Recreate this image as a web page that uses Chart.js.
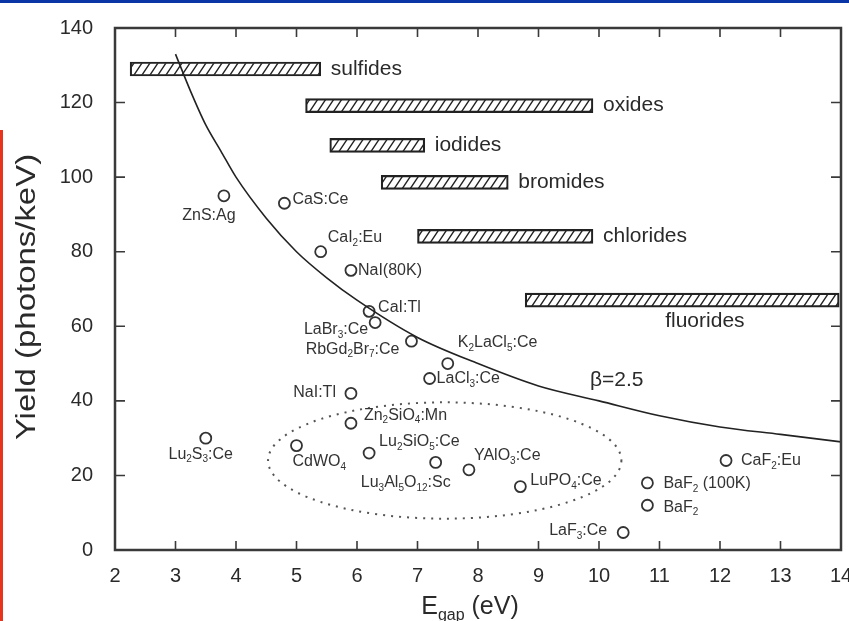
<!DOCTYPE html>
<html>
<head>
<meta charset="utf-8">
<script src="https://cdn.jsdelivr.net/npm/chart.js@4.4.1/dist/chart.umd.min.js"></script>
<style>
  html, body { margin: 0; padding: 0; background: #fff; }
  #wrap { position: relative; width: 849px; height: 621px; overflow: hidden; }
  #wrap canvas { position: absolute; left: 0; top: 0; }
  #topbar { position: absolute; left: 0; top: 0; width: 849px; height: 3px; background: #0a35a6; }
  #redstrip { position: absolute; left: 0; top: 130px; width: 3px; height: 491px; background: #e8341c; }
</style>
</head>
<body>
<div id="wrap">
  <canvas id="yieldChart" width="849" height="621"></canvas>
  <div id="topbar"></div>
  <div id="redstrip"></div>
</div>
<script>
// scintillator materials
const materials = ['ZnS:Ag', 'CaS:Ce', 'CaI_2:Eu', 'NaI(80K)', 'CaI:Tl', 'LaBr_3:Ce', 'RbGd_2Br_7:Ce',
    'K_2LaCl_5:Ce', 'LaCl_3:Ce', 'NaI:Tl', 'Zn_2SiO_4:Mn', 'CdWO_4', 'Lu_2SiO_5:Ce', 'Lu_3Al_5O_12:Sc',
    'YAlO_3:Ce', 'LuPO_4:Ce', 'LaF_3:Ce', 'BaF_2 (100K)', 'BaF_2', 'CaF_2:Eu', 'Lu_2S_3:Ce'];
const bandGap = [3.8, 4.8, 5.4, 5.9, 6.2, 6.3, 6.9, 7.5, 7.2, 5.9, 5.9, 5.0, 6.2, 7.3, 7.85, 8.7, 10.4, 10.8, 10.8, 12.1, 3.5];
const lightYield = [95, 93, 80, 75, 64, 61, 56, 50, 46, 42, 34, 28, 26, 23.5, 21.5, 17, 4.7, 18, 12, 24, 30];

// material families (hatched bands)
const families = ['sulfides', 'oxides', 'iodides', 'bromides', 'chlorides', 'fluorides'];
const familyFrom = [2.25, 5.15, 5.55, 6.4, 7.0, 8.78];
const familyTo = [5.4, 9.9, 7.12, 8.5, 9.9, 13.97];
const familyYield = [129, 119.2, 108.5, 98.6, 84.1, 67];

// beta = 2.5 curve, read at several band gaps
const curveGap = [3, 3.25, 3.5, 3.75, 4, 4.5, 5, 5.5, 6, 7, 8, 9, 10, 11, 12, 13, 14];
const curveYield = [133, 123, 114, 107, 100, 89, 80, 73, 67, 57, 50, 44, 40, 36, 33, 31, 29];
const curveLabel = 'β=2.5';
const curveLabelAt = [9.85, 45.5];

// dotted group around the oxides
const groupCenter = [7.45, 24];
const groupRadius = [2.92, 15.6];

const xTicks = [2, 3, 4, 5, 6, 7, 8, 9, 10, 11, 12, 13, 14];
const yTicks = [0, 20, 40, 60, 80, 100, 120, 140];

// label placement next to each point: dx, dy, align
const labelSpots = [
    [-15, 20, 'center'], [8, -4, 'left'], [7, -14, 'left'], [7, 0, 'left'], [9, -4, 'left'],
    [-7, 7, 'right'], [-12, 8, 'right'], [10, -21, 'left'], [7, 0, 'left'], [-15, -1, 'right'],
    [13, -8, 'left'], [-4, 16, 'left'], [10, -11, 'left'], [15, 20, 'right'], [5, -14, 'left'],
    [10, -6, 'left'], [-16, -2, 'right'], [16, 1, 'left'], [16, 2, 'left'], [15, 0, 'left'],
    [-5, 16, 'center']
];

const FONT = 'Arial, "Liberation Sans", sans-serif';
const INK = '#2a2a2a';

const canvas = document.getElementById('yieldChart');
const ctx = canvas.getContext('2d');

// hatch pattern for the family bands
const hatchCanvas = document.createElement('canvas');
hatchCanvas.width = 8;
hatchCanvas.height = 12;
const hc = hatchCanvas.getContext('2d');
hc.strokeStyle = '#222';
hc.lineWidth = 1.4;
hc.beginPath();
hc.moveTo(0, 12); hc.lineTo(8, 0);
hc.moveTo(-2, 3); hc.lineTo(2, -3);
hc.moveTo(6, 15); hc.lineTo(10, 9);
hc.stroke();
const hatch = ctx.createPattern(hatchCanvas, 'repeat');

// text with _2 / _{gap} subscripts
function drawRich(c, text, x, y, size, align) {
    const parts = text.split(/_(\d+|\{[^}]*\})/).map(p => p.replace(/[{}]/g, ''));
    const big = size + 'px ' + FONT;
    const small = Math.round(size * 0.62) + 'px ' + FONT;
    let width = 0;
    parts.forEach((p, i) => {
        c.font = i % 2 ? small : big;
        width += c.measureText(p).width;
    });
    let cx = align === 'right' ? x - width : align === 'center' ? x - width / 2 : x;
    c.textAlign = 'left';
    c.textBaseline = 'middle';
    parts.forEach((p, i) => {
        c.font = i % 2 ? small : big;
        c.fillText(p, cx, i % 2 ? y + size * 0.34 : y);
        cx += c.measureText(p).width;
    });
}

const decorations = {
    id: 'decorations',
    afterDatasetsDraw(chart) {
        const c = chart.ctx;
        const xs = chart.scales.x, ys = chart.scales.y;
        const area = chart.chartArea;
        c.save();

        // dotted ellipse
        c.strokeStyle = '#555';
        c.lineWidth = 2;
        c.setLineDash([2, 6]);
        c.beginPath();
        const cx = xs.getPixelForValue(groupCenter[0]);
        const cy = ys.getPixelForValue(groupCenter[1]);
        const rx = xs.getPixelForValue(groupCenter[0] + groupRadius[0]) - cx;
        const ry = cy - ys.getPixelForValue(groupCenter[1] + groupRadius[1]);
        c.ellipse(cx, cy, rx, ry, 0, 0, Math.PI * 2);
        c.stroke();
        c.setLineDash([]);

        // point labels
        c.fillStyle = '#333';
        const pts = chart.getDatasetMeta(2).data;
        pts.forEach((p, i) => {
            const s = labelSpots[i];
            drawRich(c, materials[i], p.x + s[0], p.y + s[1], 16, s[2]);
        });

        // family labels
        c.fillStyle = INK;
        const bars = chart.getDatasetMeta(0).data;
        bars.forEach((b, i) => {
            const right = Math.max(b.x, b.base);
            if (families[i] === 'fluorides') {
                drawRich(c, families[i], right - 174, b.y + 21, 21, 'left');
            } else {
                drawRich(c, families[i], right + 10, b.y, 21, 'left');
            }
        });

        // curve label
        drawRich(c, curveLabel, xs.getPixelForValue(curveLabelAt[0]), ys.getPixelForValue(curveLabelAt[1]), 21, 'left');

        // frame with inward ticks on all four sides
        c.strokeStyle = '#3a3a3a';
        c.lineWidth = 2.5;
        c.strokeRect(area.left, area.top, area.right - area.left, area.bottom - area.top);
        c.lineWidth = 1.6;
        c.beginPath();
        xTicks.forEach(v => {
            const px = xs.getPixelForValue(v);
            c.moveTo(px, area.bottom); c.lineTo(px, area.bottom - 9);
            c.moveTo(px, area.top); c.lineTo(px, area.top + 9);
        });
        yTicks.forEach(v => {
            const py = ys.getPixelForValue(v);
            c.moveTo(area.left, py); c.lineTo(area.left + 10, py);
            c.moveTo(area.right, py); c.lineTo(area.right - 10, py);
        });
        c.stroke();

        // axis titles
        c.fillStyle = INK;
        drawRich(c, 'E_{gap} (eV)', (area.left + area.right) / 2 - 8, 607, 25, 'center');
        c.save();
        c.translate(28, 297);
        c.rotate(-Math.PI / 2);
        c.scale(1.22, 1);
        drawRich(c, 'Yield (photons/keV)', 0, 0, 27, 'center');
        c.restore();
        c.restore();
    }
};

new Chart(ctx, {
    type: 'scatter',
    data: {
        datasets: [
            {
                type: 'bar',
                indexAxis: 'y',
                data: families.map((f, i) => ({ x: [familyFrom[i], familyTo[i]], y: familyYield[i] })),
                backgroundColor: hatch,
                borderColor: '#222',
                borderWidth: 1.5,
                borderSkipped: false,
                barThickness: 14
            },
            {
                type: 'line',
                data: curveGap.map((g, i) => ({ x: g, y: curveYield[i] })),
                showLine: true,
                borderColor: '#222',
                borderWidth: 1.6,
                pointRadius: 0,
                cubicInterpolationMode: 'monotone',
                fill: false
            },
            {
                data: bandGap.map((g, i) => ({ x: g, y: lightYield[i] })),
                pointStyle: 'circle',
                pointRadius: 5.5,
                pointBorderWidth: 1.8,
                borderColor: '#333',
                backgroundColor: 'rgba(255,255,255,0)'
            }
        ]
    },
    options: {
        responsive: false,
        animation: false,
        layout: { padding: { top: 28, right: 8, left: 0, bottom: 0 } },
        plugins: { legend: { display: false }, tooltip: { enabled: false } },
        scales: {
            x: {
                type: 'linear',
                min: 2, max: 14,
                offset: false,
                grid: { display: false, drawTicks: false, offset: false },
                border: { display: false },
                ticks: { stepSize: 1, padding: 14, color: INK, font: { size: 20, family: FONT } },
                afterFit: (s) => { s.height = 71; s.paddingLeft = 0; s.paddingRight = 0; }
            },
            y: {
                type: 'linear',
                min: 0, max: 140,
                offset: false,
                grid: { display: false, drawTicks: false, offset: false },
                border: { display: false },
                ticks: { stepSize: 20, padding: 22, color: INK, font: { size: 20, family: FONT } },
                afterFit: (s) => { s.width = 115; s.paddingTop = 0; s.paddingBottom = 0; }
            }
        }
    },
    plugins: [decorations]
});
</script>
</body>
</html>
